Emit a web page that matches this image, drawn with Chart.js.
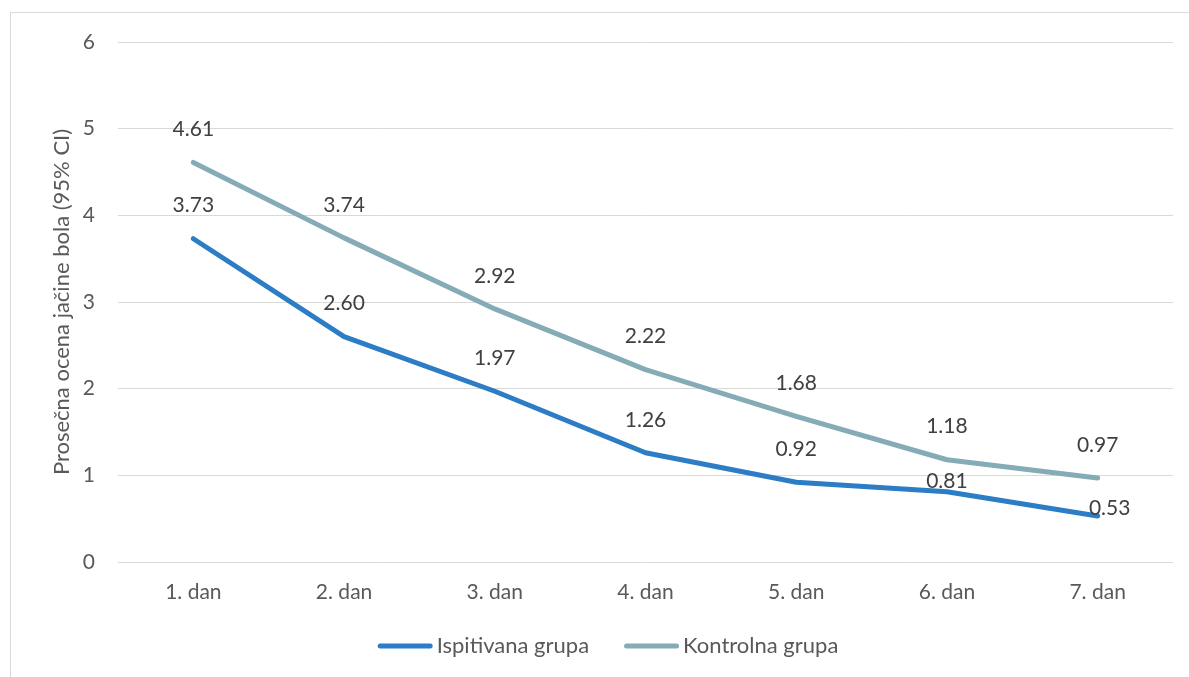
<!DOCTYPE html>
<html>
<head>
<meta charset="utf-8">
<script src="https://cdn.jsdelivr.net/npm/chart.js@4"></script>
<style>
  html, body { margin: 0; padding: 0; background: #ffffff; }
  #wrap { position: relative; width: 1189px; height: 677px; overflow: hidden; }
  #frame { position: absolute; left: 10px; top: 12px; width: 1200px; height: 700px;
           border: 1px solid #D9D9D9; box-sizing: border-box; }
  canvas { position: absolute; left: 0; top: 0; }
</style>
</head>
<body>
<div id="wrap">
  <div id="frame"></div>
  <canvas id="c" width="1189" height="677"></canvas>
</div>
<script>
// Days of follow-up
const categories = ['1. dan', '2. dan', '3. dan', '4. dan', '5. dan', '6. dan', '7. dan'];
// Mean pain score per day
const ispitivanaGrupa = [3.73, 2.60, 1.97, 1.26, 0.92, 0.81, 0.53];
const kontrolnaGrupa  = [4.61, 3.74, 2.92, 2.22, 1.68, 1.18, 0.97];
const seriesNames = ['Ispitivana grupa', 'Kontrolna grupa'];
// Value axis ticks
const yTicks = [0, 1, 2, 3, 4, 5, 6];

const FONT = 'Lato, "Open Sans", sans-serif';
const AXIS_COLOR = '#595959';
const LABEL_COLOR = '#404040';

// Value labels above each point; a few are nudged to avoid overlapping the lines
const valueLabels = {
  id: 'valueLabels',
  afterDatasetsDraw(chart, args, opts) {
    const ctx = chart.ctx;
    ctx.save();
    ctx.font = opts.size + 'px ' + FONT;
    ctx.fillStyle = LABEL_COLOR;
    ctx.textAlign = 'center';
    ctx.textBaseline = 'middle';
    chart.data.datasets.forEach((ds, di) => {
      const meta = chart.getDatasetMeta(di);
      meta.data.forEach((pt, i) => {
        const nudge = (opts.nudges[di] && opts.nudges[di][i]) || [0, opts.rise];
        ctx.fillText(ds.data[i].toFixed(2), pt.x + nudge[0], pt.y + nudge[1]);
      });
    });
    ctx.restore();
  }
};

// Legend row under the axis: short line sample followed by the series name
const lineLegend = {
  id: 'lineLegend',
  afterDraw(chart, args, opts) {
    const ctx = chart.ctx;
    ctx.save();
    ctx.font = opts.size + 'px ' + FONT;
    ctx.textBaseline = 'middle';
    ctx.textAlign = 'left';
    const items = chart.data.datasets.map(ds => ({
      text: ds.label, color: ds.borderColor, w: ctx.measureText(ds.label).width
    }));
    const total = items.reduce((s, it) => s + opts.sample + opts.gap + it.w, 0) + opts.spacing * (items.length - 1);
    let x = opts.centerX - total / 2;
    const y = opts.y;
    items.forEach(it => {
      ctx.strokeStyle = it.color;
      ctx.lineWidth = 5;
      ctx.lineCap = 'round';
      ctx.beginPath();
      ctx.moveTo(x + 2.5, y);
      ctx.lineTo(x + opts.sample - 2.5, y);
      ctx.stroke();
      x += opts.sample + opts.gap;
      ctx.fillStyle = AXIS_COLOR;
      ctx.fillText(it.text, x, y);
      x += it.w + opts.spacing;
    });
    ctx.restore();
  }
};

new Chart(document.getElementById('c'), {
  type: 'line',
  data: {
    labels: categories,
    datasets: [
      { label: seriesNames[0], data: ispitivanaGrupa, borderColor: '#2C7DC5', backgroundColor: '#2C7DC5' },
      { label: seriesNames[1], data: kontrolnaGrupa, borderColor: '#85ABB6', backgroundColor: '#85ABB6' }
    ]
  },
  plugins: [valueLabels, lineLegend],
  options: {
    responsive: false,
    animation: false,
    devicePixelRatio: 1,
    layout: { padding: { top: 42, right: 16, bottom: 55, left: 0 } },
    elements: {
      line: { borderWidth: 5, tension: 0, borderCapStyle: 'round', borderJoinStyle: 'round' },
      point: { radius: 0, hoverRadius: 0 }
    },
    plugins: {
      legend: { display: false },
      tooltip: { enabled: false },
      valueLabels: { size: 21, rise: -33, nudges: { 0: { 5: [0, -11], 6: [12, -8] } } },
      lineLegend: { size: 22, y: 646, centerX: 608, sample: 55, gap: 4, spacing: 35 }
    },
    scales: {
      x: {
        offset: true,
        grid: { display: false, drawTicks: false, offset: true },
        border: { display: false },
        ticks: { color: AXIS_COLOR, font: { family: FONT, size: 21 }, padding: 18, maxRotation: 0 },
        afterFit(scale) { scale.height = 60; }
      },
      y: {
        min: 0,
        max: 6,
        afterBuildTicks(scale) { scale.ticks = yTicks.map(v => ({ value: v })); },
        grid: { color: '#D9D9D9', lineWidth: 1, drawTicks: false },
        border: { display: false },
        ticks: { color: AXIS_COLOR, font: { family: FONT, size: 21 }, padding: 23 },
        title: {
          display: true,
          text: 'Prosečna ocena jačine bola (95% CI)',
          color: AXIS_COLOR,
          font: { family: FONT, size: 22 },
          padding: { top: 49, bottom: 0 }
        },
        afterFit(scale) { scale.width = 118; }
      }
    }
  }
});
</script>
</body>
</html>
